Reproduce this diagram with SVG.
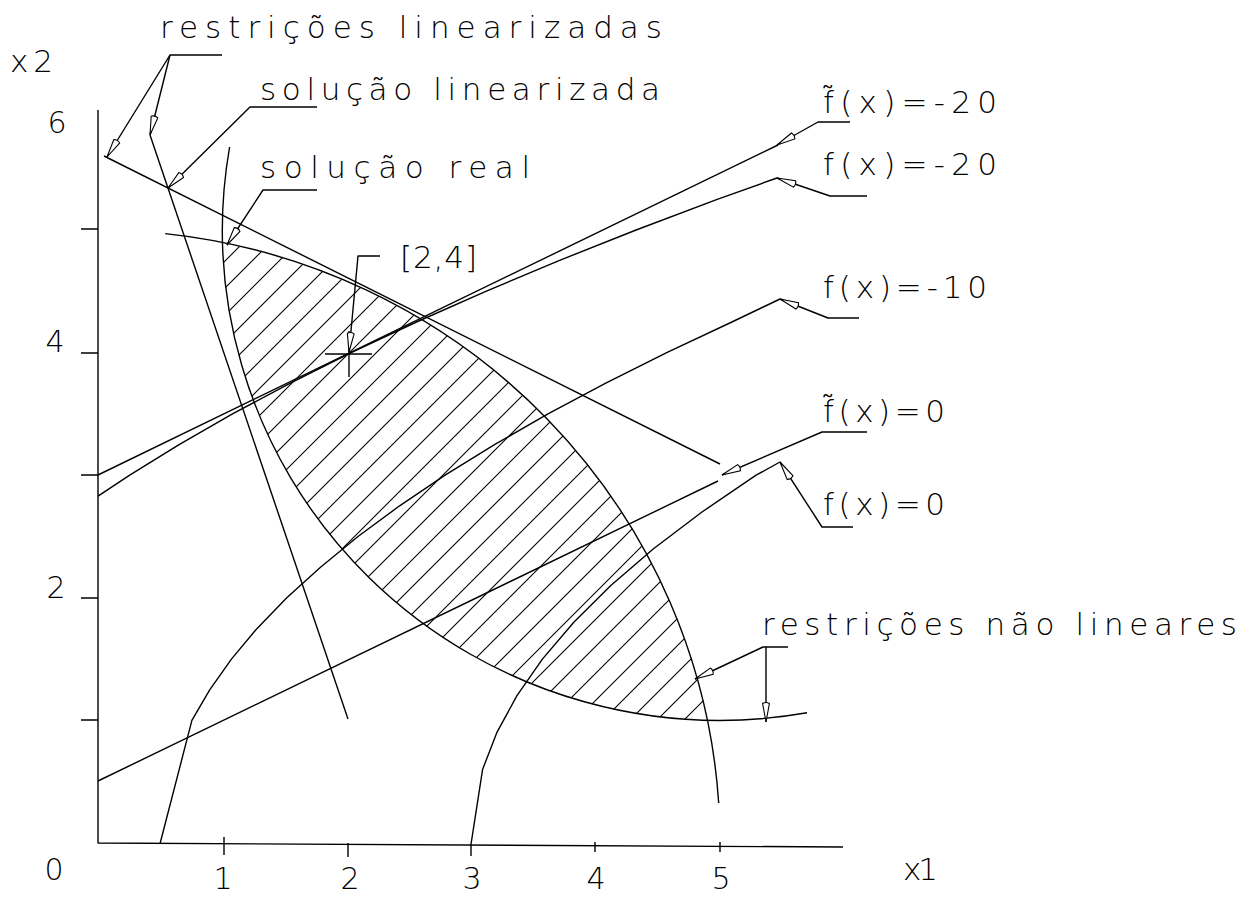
<svg xmlns="http://www.w3.org/2000/svg" width="1249" height="898" viewBox="0 0 1249 898">
<style>
.ln{fill:none;stroke:#000;stroke-width:1.4;stroke-linejoin:round}
.t{font-family:"DejaVu Sans","Liberation Sans",Arial,sans-serif;font-weight:200;fill:#000}
.lab{font-size:31px}
.fx{font-size:31px}
.num{font-size:30px;text-anchor:middle}
</style>
<defs>
<marker id="ah" viewBox="0 0 22 10" refX="21" refY="5" markerWidth="22" markerHeight="10" markerUnits="userSpaceOnUse" orient="auto">
<path d="M21,5 L2.5,1.6 Q0.5,5 2.5,8.4 Z" fill="#fff" stroke="#000" stroke-width="1.1"/>
</marker>
<pattern id="hatch" patternUnits="userSpaceOnUse" x="0" y="0" width="27" height="27">
<path d="M-2,2 L2,-2 M0,27 L27,0 M25,29 L29,25" stroke="#000" stroke-width="1.1"/>
</pattern>
</defs>
<rect width="1249" height="898" fill="#fff"/>

<g id="axes" class="ln">
<path d="M98,110 L98,843 L843,847"/>
<path d="M81,229 H98 M81,353 H98 M81,475 H98 M81,598 H98 M81,720 H98"/>
<path d="M224,837 V855 M348,843 V857 M471,843 V856 M595,842 V852 M720,842 V852"/>
</g>

<g id="feasible-region">
<path d="M222.5,242.4 A622,613 0 0 1 707.4,720.3 A497.6,490.4 0 0 1 222.5,242.4 Z" fill="url(#hatch)" stroke="none"/>
</g>

<g id="curves" class="ln">
<path id="nonlinear-c2" d="M165.2,233.6 A622,613 0 0 1 718.7,803"/>
<path id="nonlinear-c1" d="M229.6,147 A497.6,490.4 0 0 0 807,712.8"/>
<path id="linear-a" d="M104,156 L720,464"/>
<path id="linear-b" d="M150,135 L348,719"/>
<path id="ftil-20" d="M98,475 L778,145"/>
<path id="ftil-0" d="M98,781 L718,481"/>
<path id="f-20" d="M98,496.2 L129.7,475.2 L179.1,444.6 L232.5,413.9 L289.9,383.3 L351.2,352.6 L416.5,322 L485.8,291.3 L559,260.6 L636.1,230 L717.2,199.4 L777,178"/>
<path id="f-10" d="M160.2,843 L191.9,720.4 L209.7,689.8 L231.4,659.1 L257.1,628.4 L286.8,597.8 L320.5,567.2 L358,536.5 L399.6,505.8 L445.1,475.2 L494.5,444.6 L548,413.9 L605.3,383.3 L666.7,352.6 L731.9,322 L780,299"/>
<path id="f-0" d="M471.2,843 L482.6,769.4 L496.8,732.7 L516.8,695.9 L542.4,659.1 L573.8,622.3 L610.8,585.5 L653.5,548.8 L702,512 L756.1,475.2 L780,462"/>
<path id="point-2-4" d="M325,354 H372 M349,331 V377"/>
</g>

<g id="connectors" class="ln">
<path d="M222,55 H170 L107,157" marker-end="url(#ah)"/>
<path d="M170,55 L150,135" marker-end="url(#ah)"/>
<path d="M317,107 H250 L168,188" marker-end="url(#ah)"/>
<path d="M317,190 H263 L227,245" marker-end="url(#ah)"/>
<path d="M380,256 H358 L349,352" marker-end="url(#ah)"/>
<path d="M850,122 H818 L777,145" marker-end="url(#ah)"/>
<path d="M867,196 H830 L777,178" marker-end="url(#ah)"/>
<path d="M859,318 H828 L780,299" marker-end="url(#ah)"/>
<path d="M867,432 H822 L722,475" marker-end="url(#ah)"/>
<path d="M853,527 H822 L780,462" marker-end="url(#ah)"/>
<path d="M788,647 H763 L695,679" marker-end="url(#ah)"/>
<path d="M766,647 V722" marker-end="url(#ah)"/>
</g>

<g id="label-restricoes-linearizadas"><text class="t lab" x="160" y="38" textLength="502" lengthAdjust="spacing">restrições linearizadas</text></g>
<g id="label-solucao-linearizada"><text class="t lab" x="260" y="100" textLength="400" lengthAdjust="spacing">solução linearizada</text></g>
<g id="label-solucao-real"><text class="t lab" x="260" y="178" textLength="270" lengthAdjust="spacing">solução real</text></g>
<g id="label-ponto"><text class="t lab" x="400" y="268" textLength="77" lengthAdjust="spacing">[2,4]</text></g>
<g id="label-ftil-20"><text class="t fx" x="823" y="113" textLength="174" lengthAdjust="spacing">f̃(x)=-20</text></g>
<g id="label-f-20"><text class="t fx" x="823" y="175" textLength="174" lengthAdjust="spacing">f(x)=-20</text></g>
<g id="label-f-10"><text class="t fx" x="823" y="298" textLength="164" lengthAdjust="spacing">f(x)=-10</text></g>
<g id="label-ftil-0"><text class="t fx" x="823" y="422" textLength="122" lengthAdjust="spacing">f̃(x)=0</text></g>
<g id="label-f-0"><text class="t fx" x="823" y="515" textLength="122" lengthAdjust="spacing">f(x)=0</text></g>
<g id="label-restricoes-nao-lineares"><text class="t lab" x="762" y="635" textLength="475" lengthAdjust="spacing">restrições não lineares</text></g>

<g id="axis-labels">
<text class="t fx" x="10" y="72" textLength="43" lengthAdjust="spacing">x2</text>
<text class="t num" x="57" y="133">6</text>
<text class="t num" x="55" y="352">4</text>
<text class="t num" x="56" y="598">2</text>
<text class="t num" x="54" y="880">0</text>
<text class="t num" x="223" y="889">1</text>
<text class="t num" x="350" y="889">2</text>
<text class="t num" x="472" y="889">3</text>
<text class="t num" x="596" y="889">4</text>
<text class="t num" x="721" y="889">5</text>
<text class="t fx" x="903" y="880" textLength="35" lengthAdjust="spacing">x1</text>
</g>
</svg>
